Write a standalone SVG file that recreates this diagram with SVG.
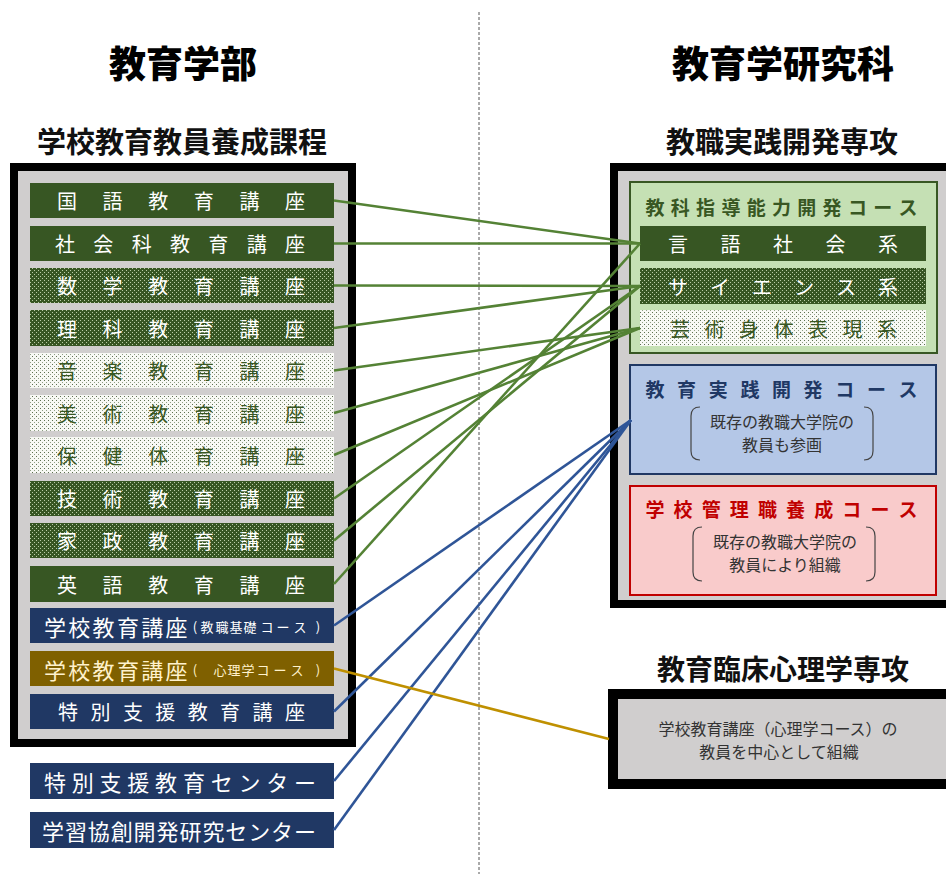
<svg xmlns="http://www.w3.org/2000/svg" width="946" height="874" viewBox="0 0 946 874">
<style>
text{font-family:"Noto Sans CJK JP","Noto Sans CJK SC",sans-serif;dominant-baseline:central;text-anchor:middle}
.h1{font-size:37px;font-weight:900;fill:#000}
.h2{font-size:29px;font-weight:700;fill:#111}
.h3{font-size:28px;font-weight:700;fill:#111}
.it{font-size:20px;fill:#fff}
.itg{font-size:20px;fill:#385723}
.big{font-size:22px;fill:#fff}
.sm{font-size:13px;fill:#fff}
.gold{fill:#fff2cc}
.ct{font-size:19px;font-weight:700}
.note{font-size:16px;fill:#333}
.br{fill:none;stroke:#444;stroke-width:1.2}
.gl{stroke:#548235;stroke-width:2.6;fill:none}
.bl{stroke:#2f5597;stroke-width:2.6;fill:none}
.yl{stroke:#bf9000;stroke-width:2.6;fill:none}
</style>
<defs>
<pattern id="pd" width="4" height="4" patternUnits="userSpaceOnUse"><rect width="4" height="4" fill="#375623"/><rect width="1" height="1" fill="#b9cca6"/><rect x="2" y="2" width="1" height="1" fill="#b9cca6"/></pattern>
<pattern id="pl" width="4" height="4" patternUnits="userSpaceOnUse"><rect width="4" height="4" fill="#f8f9f5"/><rect width="1" height="1" fill="#5d7050"/><rect x="2" y="2" width="1" height="1" fill="#8e9e84"/></pattern>
</defs>
<rect width="946" height="874" fill="#fff"/>
<line x1="479" y1="12" x2="479" y2="874" stroke="#555" stroke-width="1" stroke-dasharray="3 2"/>

<g id="headers">
<text class="h1" x="183" y="62">教育学部</text>
<text class="h1" x="783" y="62">教育学研究科</text>
<text class="h2" x="182" y="140">学校教育教員養成課程</text>
<text class="h2" x="782" y="140">教職実践開発専攻</text>
<text class="h3" x="783" y="668">教育臨床心理学専攻</text>
</g>

<g id="left-box"><rect x="14" y="167" width="338" height="576" fill="#d0cece" stroke="#000" stroke-width="8"/></g>
<g id="right-box"><rect x="614" y="167" width="400" height="437" fill="#d0cece" stroke="#000" stroke-width="8"/></g>

<g id="kokugo"><rect x="30" y="183" width="304" height="35" fill="#375623"/><text class="it" x="67 112.6 158.2 203.8 249.4 295" y="200.5">国語教育講座</text></g>
<g id="shakai"><rect x="30" y="226" width="304" height="35" fill="#375623"/><text class="it" x="65 103.3 141.7 180 218.3 256.7 295" y="243.5">社会科教育講座</text></g>
<g id="sugaku"><rect x="30" y="268" width="304" height="35" fill="url(#pd)"/><text class="it" x="67 112.6 158.2 203.8 249.4 295" y="285.5">数学教育講座</text></g>
<g id="rika"><rect x="30" y="310" width="304" height="36" fill="url(#pd)"/><text class="it" x="67 112.6 158.2 203.8 249.4 295" y="328">理科教育講座</text></g>
<g id="ongaku"><rect x="30" y="353" width="304" height="35" fill="url(#pl)"/><text class="itg" x="67 112.6 158.2 203.8 249.4 295" y="370.5">音楽教育講座</text></g>
<g id="bijutsu"><rect x="30" y="395" width="304" height="36" fill="url(#pl)"/><text class="itg" x="67 112.6 158.2 203.8 249.4 295" y="413">美術教育講座</text></g>
<g id="hoken"><rect x="30" y="437" width="304" height="36" fill="url(#pl)"/><text class="itg" x="67 112.6 158.2 203.8 249.4 295" y="455">保健体育講座</text></g>
<g id="gijutsu"><rect x="30" y="481" width="304" height="35" fill="url(#pd)"/><text class="it" x="67 112.6 158.2 203.8 249.4 295" y="498.5">技術教育講座</text></g>
<g id="kasei"><rect x="30" y="523" width="304" height="35" fill="url(#pd)"/><text class="it" x="67 112.6 158.2 203.8 249.4 295" y="540.5">家政教育講座</text></g>
<g id="eigo"><rect x="30" y="566" width="304" height="36" fill="#375623"/><text class="it" x="67 112.6 158.2 203.8 249.4 295" y="584">英語教育講座</text></g>
<g id="gakko-kyoshoku"><rect x="30" y="608" width="304" height="35" fill="#203864"/><text class="big" x="55 79.3 103.6 127.9 152.2 176.5" y="625.5">学校教育講座</text><text class="sm" x="195 207 222 236 250 267 283 300 318" y="626">(教職基礎コース)</text></g>
<g id="gakko-shinri"><rect x="30" y="651" width="304" height="35" fill="#7f6000"/><text class="big gold" x="55 79.3 103.6 127.9 152.2 176.5" y="668.5">学校教育講座</text><text class="sm gold" x="195 220 234 248 263 280 297 318" y="669">(心理学コース)</text></g>
<g id="tokubetsu"><rect x="30" y="694" width="304" height="35" fill="#203864"/><text class="it" x="68 100.4 132.9 165.3 197.7 230.1 262.6 295" y="711.5">特別支援教育講座</text></g>
<g id="tokubetsu-center"><rect x="30" y="763" width="304" height="36" fill="#203864"/><text class="big" x="55 82.8 110.6 138.3 166.1 193.9 221.7 249.4 277.2 305" y="781">特別支援教育センター</text></g>
<g id="gakushu-center"><rect x="30" y="812" width="304" height="36" fill="#203864"/><text class="big" x="53 75.9 98.8 121.7 144.6 167.5 190.5 213.4 236.3 259.2 282.1 305" y="830">学習協創開発研究センター</text></g>

<g id="kyoka-course"><rect x="630" y="182" width="307" height="171" fill="#c5e0b4" stroke="#385723" stroke-width="2"/>
<text class="ct" fill="#385723" x="655 680.3 705.6 730.9 756.2 781.5 806.8 832.1 857.4 882.7 908" y="206">教科指導能力開発コース</text></g>
<g id="gengo"><rect x="640" y="226" width="286" height="35" fill="#375623"/><text class="it" x="678 730.5 783 835.5 888" y="243.5">言語社会系</text></g>
<g id="science"><rect x="640" y="268" width="286" height="36" fill="url(#pd)"/><text class="it" x="678 720 762 804 846 888" y="286">サイエンス系</text></g>
<g id="geijutsu"><rect x="640" y="310" width="286" height="36" fill="url(#pl)"/><text class="itg" x="680 714.5 749 783.5 818 852.5 887" y="328">芸術身体表現系</text></g>

<g id="jissen-course"><rect x="630" y="365" width="306" height="109" fill="#b4c7e7" stroke="#203864" stroke-width="2"/>
<text class="ct" fill="#203864" x="655 686.6 718.2 749.9 781.5 813.1 844.7 876.4 908" y="388">教育実践開発コース</text>
<path class="br" d="M700 407 Q691 407 691 416 L691 451 Q691 460 700 460"/><path class="br" d="M864 407 Q873 407 873 416 L873 451 Q873 460 864 460"/>
<text class="note" x="782" y="421">既存の教職大学院の</text><text class="note" x="782" y="444">教員も参画</text></g>

<g id="kanri-course"><rect x="630" y="486" width="306" height="109" fill="#f9cbcb" stroke="#c00000" stroke-width="2"/>
<text class="ct" fill="#c00000" x="655 683.1 711.2 739.3 767.4 795.6 823.7 851.8 879.9 908" y="508">学校管理職養成コース</text>
<path class="br" d="M702 527 Q693 527 693 536 L693 572 Q693 581 702 581"/><path class="br" d="M866 527 Q875 527 875 536 L875 572 Q875 581 866 581"/>
<text class="note" x="785" y="541">既存の教職大学院の</text><text class="note" x="785" y="564">教員により組織</text></g>

<g id="rinsho-box"><rect x="613" y="694" width="400" height="90" fill="#d0cece" stroke="#000" stroke-width="10"/>
<text class="note" fill="#404040" x="778" y="728">学校教育講座（心理学コース）の</text><text class="note" fill="#404040" x="779" y="751">教員を中心として組織</text></g>

<g id="connectors">
<line class="gl" x1="334" y1="200.5" x2="640" y2="243.5"/>
<line class="gl" x1="334" y1="243.5" x2="640" y2="243.5"/>
<line class="gl" x1="334" y1="285.5" x2="640" y2="286"/>
<line class="gl" x1="334" y1="328" x2="640" y2="286"/>
<line class="gl" x1="334" y1="370.5" x2="640" y2="328"/>
<line class="gl" x1="334" y1="413" x2="640" y2="328"/>
<line class="gl" x1="334" y1="455" x2="640" y2="328"/>
<line class="gl" x1="334" y1="498.5" x2="640" y2="286"/>
<line class="gl" x1="334" y1="540.5" x2="640" y2="286"/>
<line class="gl" x1="334" y1="584" x2="640" y2="243.5"/>
<line class="bl" x1="334" y1="625.5" x2="631" y2="420"/>
<line class="bl" x1="334" y1="711.5" x2="631" y2="420"/>
<line class="bl" x1="334" y1="781" x2="631" y2="420"/>
<line class="bl" x1="334" y1="830" x2="631" y2="420"/>
<line class="yl" x1="334" y1="668.5" x2="609" y2="739"/>
</g>
</svg>
